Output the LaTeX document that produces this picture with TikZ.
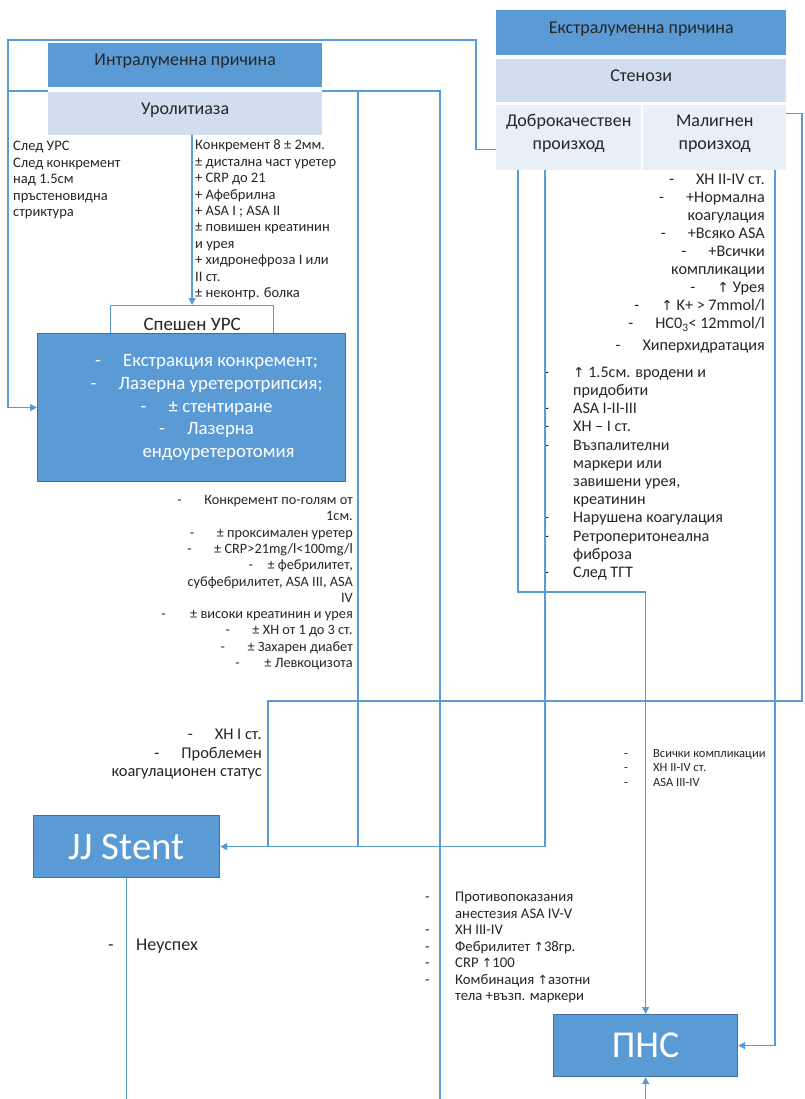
\documentclass[tikz,border=0pt]{standalone}
\usepackage{fontspec}
\setmainfont{Carlito}
\newfontfamily\symfont{DejaVu Sans}
\usetikzlibrary{arrows.meta,calc}

\definecolor{accent}{RGB}{91,155,213}
\definecolor{accentdk}{RGB}{65,113,156}
\definecolor{paleblue}{RGB}{210,222,239}
\definecolor{paleblue2}{RGB}{233,239,247}
\definecolor{ink}{RGB}{38,38,38}

\newcommand{\up}{{\symfont\fontsize{0.85em}{1em}\selectfont ↑}}
\newcommand{\dashcol}[1][27pt]{\makebox[#1][l]{-}}
\newcommand{\nodash}[1][27pt]{\makebox[#1][l]{}}

\begin{document}
\begin{tikzpicture}[
    x=1pt, y=-1pt,
    font=\fontsize{14.5}{16.4}\selectfont,
    text=ink,
    hdr/.style={fill=accent, anchor=north west, inner sep=0pt, text height=22.5pt, text depth=20.5pt, font=\fontsize{18}{23}\selectfont},
    subhdr/.style={hdr, fill=paleblue},
    cell/.style={hdr, fill=paleblue2, align=center},
    bigbox/.style={fill=accent, draw=accentdk, line width=1.2pt, anchor=north west, inner sep=0pt, text=white},
    note/.style={inner sep=0pt},
    link/.style={draw=accent, line width=1.3pt},
    arr/.style={link, -{Triangle[length=7pt, width=7pt]}}
]
    \fill[white] (0,0) rectangle (804,1099);
    \useasboundingbox (0,0) rectangle (804,1099);

    % Intraluminal branch
    \node[hdr, minimum width=274pt, text depth=21.5pt] (intra) at (48,43) {Интралуменна причина};
    \node[subhdr, minimum width=274pt] (urolit) at (48,92) {Уролитиаза};

    % Extraluminal branch
    \node[hdr, minimum width=290pt, text height=23.5pt, text depth=21.5pt] (extra) at (496,10) {Екстралуменна причина};
    \node[subhdr, minimum width=290pt] (stenosi) at (496,59) {Стенози};
    \node[cell, minimum width=145pt, text height=44.5pt] (benign) at (496,105) {Доброкачествен\\произход};
    \node[cell, minimum width=143pt, text height=44.5pt] (malign) at (643,105) {Малигнен\\произход};

    % Procedures
    \node[anchor=north west, fill=white, draw=accent, line width=1.2pt, inner sep=0pt, minimum width=163pt,
          text height=25pt, text depth=5pt, font=\fontsize{19}{20}\selectfont] (urs) at (110,305) {Спешен УРС};
    \node[bigbox, minimum width=308pt, minimum height=148pt, align=center, font=\fontsize{18.8}{22.8}\selectfont] (ursbox) at (37,333)
        {\hspace{30pt}\dashcol[28pt]Екстракция конкремент;\\
         \hspace{30pt}\dashcol[28pt]Лазерна уретеротрипсия;\\
         \hspace{30pt}\dashcol[28pt]± стентиране\\
         \hspace{30pt}\dashcol[28pt]Лазерна\\
         \hspace{54pt}ендоуретеротомия};
    \node[bigbox, minimum width=186pt, minimum height=62pt, font=\fontsize{39}{40}\selectfont] (jj) at (33,815) {JJ Stent};
    \node[bigbox, minimum width=184pt, minimum height=62pt, font=\fontsize{38}{40}\selectfont] (pns) at (553,1014) {ПНС};

    % Criteria
    \node[note, anchor=base west, align=left] (afterUrs) at (13,216.5)
        {След УРС\\След конкремент\\над 1.5см\\пръстеновидна\\стриктура};
    \node[note, anchor=base west, align=left] (stoneCrit) at (195,297.5)
        {Конкремент 8 ± 2мм.\\± дистална част уретер\\+ CRP до 21\\+ Афебрилна\\+ ASA I ; ASA II\\± повишен креатинин\\и урея\\+ хидронефроза I или\\II ст.\\± неконтр. болка};
    \node[note, anchor=base east, align=right, font=\fontsize{14.3}{16.3}\selectfont] (largeStone) at (353,667.5)
        {\dashcol Конкремент по-голям от\\1см.\\\dashcol ± проксимален уретер\\\dashcol ± CRP>21mg/l<100mg/l\\\dashcol[19pt]± фебрилитет,\\субфебрилитет, ASA III, ASA\\IV\\\dashcol[29pt]± високи креатинин и урея\\\dashcol ± ХН от 1 до 3 ст.\\\dashcol ± Захарен диабет\\\dashcol[29pt]± Левкоцизота};
    \node[note, anchor=base east, align=right, font=\fontsize{16.4}{18.5}\selectfont] (jjCrit) at (262,776.5)
        {\dashcol ХН I ст.\\\dashcol Проблемен\\коагулационен статус};
    \node[note, anchor=base east, align=right, font=\fontsize{16.2}{18}\selectfont] (malignCrit) at (765,350.5)
        {\dashcol ХН II-IV ст.\\\dashcol +Нормална\\коагулация\\\dashcol +Всяко ASA\\\dashcol +Всички\\компликации\\\dashcol \up{} Урея\\\dashcol \up{} K+ > 7mmol/l\\\dashcol HC0\textsubscript{3}< 12mmol/l\\[4pt]\dashcol Хиперхидратация};
    \node[note, anchor=base west, align=left, font=\fontsize{16.1}{18.2}\selectfont] (benignCrit) at (544,577.5)
        {\dashcol[29pt]\up{} 1.5см. вродени и\\\nodash[29pt]придобити\\\dashcol[29pt]ASA I-II-III\\\dashcol[29pt]ХН – I ст.\\\dashcol[29pt]Възпалителни\\\nodash[29pt]маркери или\\\nodash[29pt]завишени урея,\\\nodash[29pt]креатинин\\\dashcol[29pt]Нарушена коагулация\\\dashcol[29pt]Ретроперитонеална\\\nodash[29pt]фиброза\\\dashcol[29pt]След ТГТ};
    \node[note, anchor=base west, align=left, font=\fontsize{12.5}{14.5}\selectfont] (pnsCrit) at (624,786)
        {\dashcol[29pt]Всички компликации\\\dashcol[29pt]ХН II-IV ст.\\\dashcol[29pt]ASA III-IV};
    \node[note, anchor=base west, align=left, font=\fontsize{14.7}{16.5}\selectfont] (pnsContra) at (425,1000.5)
        {\dashcol[30pt]Противопоказания\\\nodash[30pt]анестезия ASA IV-V\\\dashcol[30pt]ХН III-IV\\\dashcol[30pt]Фебрилитет \up{}38гр.\\\dashcol[30pt]CRP \up{}100\\\dashcol[30pt]Комбинация \up{}азотни\\\nodash[30pt]тела +възп. маркери};
    \node[note, anchor=base west, font=\fontsize{18}{18}\selectfont] (failNote) at (108,950) {\dashcol[28pt]Неуспех};

    % Route points
    \coordinate (topL) at (8,40);
    \coordinate (topR) at (476,40);
    \coordinate (midL) at (8,91);
    \coordinate (midC) at (358,91);
    \coordinate (midR) at (440,91);
    \coordinate (crossR) at (802,701);
    \coordinate (crossL) at (268,701);
    \coordinate (bendB) at (518,592);
    \coordinate (botY) at (0,1099);

    % Connectors
    \draw[arr] ([yshift=-11.5pt]benign.west) -| (topR) -- (topL) |- (ursbox.west);
    \draw[link] (midL) -- (midL -| intra.west);
    \draw[link] (midL -| intra.east) -- (midR) -- (midR |- botY);
    \draw[link] (midC) -- (midC |- jj.east);
    \draw[arr] (urs.north |- urolit.south) -- (urs.north);
    \draw[link] ([yshift=24.5pt]malign.east) -| (crossR) -- (crossL) -- (crossL |- jj.east);
    \draw[arr] ($(benign.south west)+(49,0)$) |- (jj.east);
    \draw[arr] ($(benign.south west)+(22,0)$) -- (bendB) -| (pns.north);
    \draw[arr] ($(malign.south west)+(132,0)$) |- (pns.east);
    \draw[link] (jj.south) -- (jj.south |- botY);
    \draw[arr] (pns.south |- botY) -- (pns.south);
\end{tikzpicture}
\end{document}
